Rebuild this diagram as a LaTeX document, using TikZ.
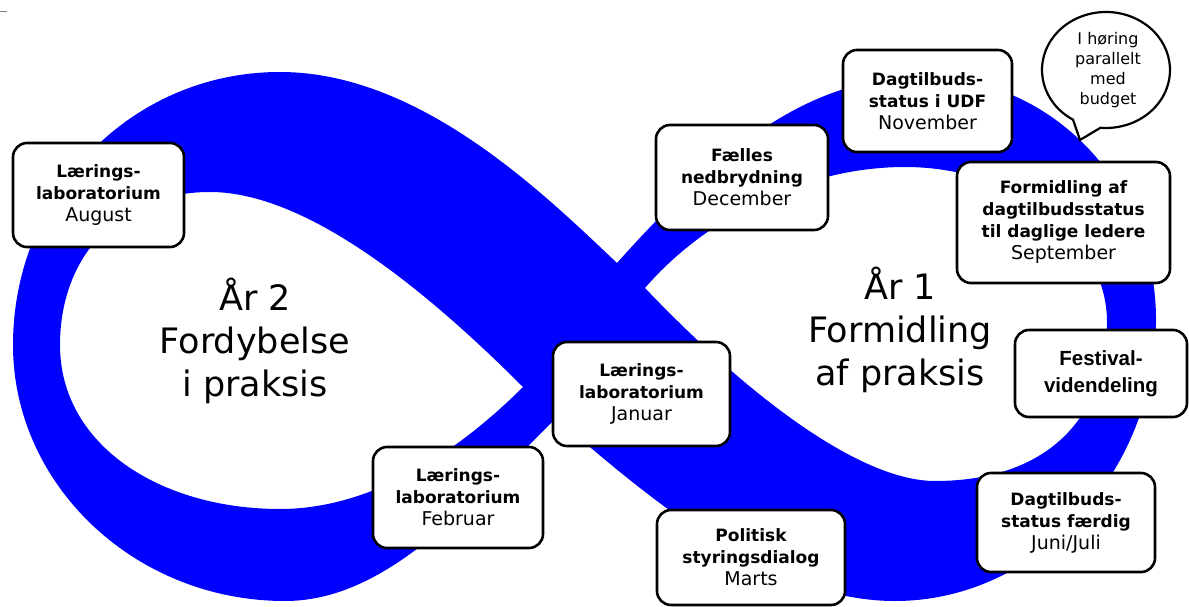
\documentclass[tikz,border=0pt]{standalone}
\usepackage{fontspec}
\setmainfont{DejaVu Sans}
\newfontfamily\arialfont{Liberation Sans}
\definecolor{loopblue}{RGB}{0,0,255}
\tikzset{
  stagebox/.style={draw=black, line width=2.6pt, fill=white, rounded corners=14pt,
    align=center, inner sep=0pt, font=\fontsize{17}{22}\selectfont\bfseries},
  bigtext/.style={align=center, inner sep=0pt, font=\fontsize{35}{43}\selectfont},
  bubbletext/.style={align=center, inner sep=0pt, font=\fontsize{16}{20}\selectfont},
}
\newcommand{\mon}[1]{{\fontsize{19}{23}\selectfont\mdseries #1}}
\begin{document}
\begin{tikzpicture}[x=1pt,y=-1pt]
\useasboundingbox (0,0) rectangle (1189,607);
% small mark top left
\draw[gray, line width=1pt] (0,11.5) -- (7,11.5);
% infinity band
\fill[loopblue, even odd rule]
 (617,263) .. controls (740,125) and (825,77) .. (925,77)
 .. controls (1052,77) and (1156,186) .. (1156,320)
 .. controls (1156,470) and (1039,601) .. (895,601)
 .. controls (765,601) and (640,490) .. (556,418)
 .. controls (466,508) and (385,601) .. (285,601)
 .. controls (135,601) and (13,485) .. (13,345)
 .. controls (13,195) and (130,72) .. (280,72)
 .. controls (420,72) and (544,194) .. (617,263) -- cycle
 (523,387) .. controls (468,442) and (380,509) .. (280,509)
 .. controls (160,509) and (60,445) .. (60,345)
 .. controls (60,255) and (120,192) .. (210,192)
 .. controls (310,192) and (433,297) .. (523,387) -- cycle
 (645,288) .. controls (697,227) and (795,167) .. (905,167)
 .. controls (1015,167) and (1107,237) .. (1107,322)
 .. controls (1107,420) and (1045,481) .. (935,481)
 .. controls (860,481) and (748,396) .. (645,288) -- cycle;
% big texts
\node[bigtext] (yeartwo) at (255,341) {År 2\\Fordybelse\\i praksis};
\node[bigtext] (yearone) at (900,330) {År 1\\Formidling\\af praksis};
% boxes
\node[stagebox, minimum width=171pt, minimum height=104pt] (aug) at (98.5,195) {Lærings-\\laboratorium\\\mon{August}};
\node[stagebox, minimum width=172pt, minimum height=105pt] (dec) at (742,177.5) {Fælles\\nedbrydning\\\mon{December}};
\node[stagebox, minimum width=169pt, minimum height=102pt] (nov) at (927.5,101) {Dagtilbuds-\\status i UDF\\\mon{November}};
\node[stagebox, minimum width=213pt, minimum height=121pt] (sep) at (1063.5,222.5) {Formidling af\\dagtilbudsstatus\\til daglige ledere\\\mon{September}};
\node[stagebox, minimum width=172pt, minimum height=87pt, font=\arialfont\fontsize{20.5}{27}\selectfont\bfseries] (fest) at (1101,373.5) {Festival-\\videndeling};
\node[stagebox, minimum width=178pt, minimum height=99pt] (jun) at (1066,522.5) {Dagtilbuds-\\status færdig\\\mon{Juni/Juli}};
\node[stagebox, minimum width=188pt, minimum height=95pt] (mar) at (751,557.5) {Politisk\\styringsdialog\\\mon{Marts}};
\node[stagebox, minimum width=177pt, minimum height=104pt] (jan) at (641.5,394) {Lærings-\\laboratorium\\\mon{Januar}};
\node[stagebox, minimum width=170pt, minimum height=101pt] (feb) at (458,497.5) {Lærings-\\laboratorium\\\mon{Februar}};
% speech bubble
\draw[line width=2.2pt, fill=white] (1106,70) ++(121:64 and 58) arc[start angle=121, end angle=455, x radius=64, y radius=58] -- (1080,140) -- cycle;
\node[bubbletext] (bubble) at (1108,70) {I høring\\parallelt\\med\\budget};
\end{tikzpicture}
\end{document}
